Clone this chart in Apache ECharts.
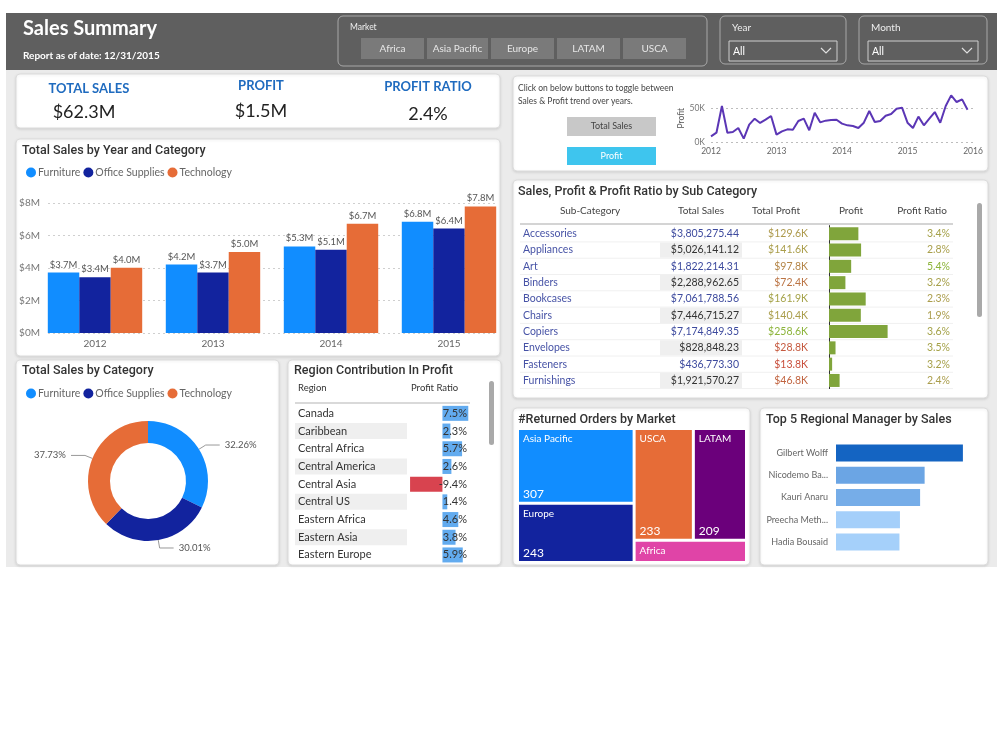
<!DOCTYPE html>
<html>
<head>
<meta charset="utf-8">
<title>Sales Summary</title>
<script src="https://cdn.jsdelivr.net/npm/echarts@6/dist/echarts.min.js"></script>
<style>
  html, body { margin: 0; padding: 0; background: #fff; }
  #main { width: 1000px; height: 750px; }
</style>
</head>
<body>
<div id="main"></div>
<script>
// ---------- data ----------
var years = ['2012', '2013', '2014', '2015'];
var categories = ['Furniture', 'Office Supplies', 'Technology'];
var furnitureSales = [3.72, 4.21, 5.33, 6.84];   // $M
var officeSales = [3.43, 3.72, 5.12, 6.43];
var techSales = [4.02, 4.98, 6.72, 7.79];
var categoryTotals = [20.10, 18.70, 23.51];      // $M

var kpiLabels = ['TOTAL SALES', 'PROFIT', 'PROFIT RATIO'];
var kpiValues = ['$62.3M', '$1.5M', '2.4%'];

var markets = ['Africa', 'Asia Pacific', 'Europe', 'LATAM', 'USCA'];

var trendStartYear = 2012;
// monthly profit, Jan 2012 .. Dec 2015 ($K)
var monthlyProfit = [
  8.3, 13.7, 53.0, 13.7, 14.7, 20.6, 4.9, 25.5, 34.3, 28.0, 32.8, 38.2,
  10.8, 15.7, 18.6, 18.1, 30.9, 34.3, 17.2, 43.0, 28.9, 31.4, 32.4, 32.8,
  27.0, 24.5, 23.5, 20.6, 28.4, 45.6, 29.4, 30.9, 38.7, 41.2, 49.0, 50.5,
  28.4, 20.6, 37.3, 24.5, 34.3, 44.1, 28.4, 53.0, 68.6, 58.8, 62.7, 47.5
];

var subCategories = ['Accessories', 'Appliances', 'Art', 'Binders', 'Bookcases',
  'Chairs', 'Copiers', 'Envelopes', 'Fasteners', 'Furnishings'];
var subSales = [3805275.44, 5026141.12, 1822214.31, 2288962.65, 7061788.56,
  7446715.27, 7174849.35, 828848.23, 436773.30, 1921570.27];
var subProfit = [129.6, 141.6, 97.8, 72.4, 161.9, 140.4, 258.6, 28.8, 13.8, 46.8]; // $K
var subRatio = [3.4, 2.8, 5.4, 3.2, 2.3, 1.9, 3.6, 3.5, 3.2, 2.4];

var regions = ['Canada', 'Caribbean', 'Central Africa', 'Central America', 'Central Asia',
  'Central US', 'Eastern Africa', 'Eastern Asia', 'Eastern Europe'];
var regionRatio = [7.5, 2.3, 5.7, 2.6, -9.4, 1.4, 4.6, 3.8, 5.9];

var returnMarkets = ['Asia Pacific', 'Europe', 'USCA', 'LATAM', 'Africa'];
var returnCounts = [307, 243, 233, 209, 88];

var managers = ['Gilbert Wolff', 'Nicodemo Bautista', 'Kauri Anaru', 'Preecha Metharom', 'Hadia Bousaid'];
var managerSales = [12.6, 8.8, 8.35, 6.35, 6.3]; // $M

// ---------- helpers ----------
var palette = ['#118DFF', '#12239E', '#E66C37', '#6B007B', '#E044A7'];
var BODY = 'Lato';
var TITLE = 'Roboto';

function hex(c) {
  return [parseInt(c.substr(1, 2), 16), parseInt(c.substr(3, 2), 16), parseInt(c.substr(5, 2), 16)];
}
function mix(a, b, t) {
  var x = hex(a), y = hex(b);
  return 'rgb(' + x.map(function (v, i) { return Math.round(v + (y[i] - v) * t); }).join(',') + ')';
}
function span(arr, v) {
  var lo = Math.min.apply(null, arr), hi = Math.max.apply(null, arr);
  return (v - lo) / (hi - lo);
}

var g = [];
function rect(x, y, w, h, style, r, z) {
  g.push({ type: 'rect', z: z == null ? -5 : z, silent: true,
    shape: { x: x, y: y, width: w, height: h, r: r || 0 }, style: style });
}
function card(x, y, w, h) {
  rect(x, y, w, h, { fill: '#fff', stroke: '#dcdcdc', lineWidth: 1,
    shadowBlur: 3, shadowColor: 'rgba(0,0,0,0.10)', shadowOffsetY: 1 }, 4, -5);
}
function txt(x, y, s, o) {
  o = o || {};
  g.push({ type: 'text', z: 100, silent: true, style: {
    x: x, y: y, text: s, fill: o.fill || '#333', fontSize: o.size || 10,
    fontFamily: o.family || BODY, fontWeight: o.weight || 'normal',
    textAlign: o.align || 'left', textVerticalAlign: 'middle' } });
}
function line(x1, y1, x2, y2, color, w) {
  g.push({ type: 'line', z: -4, silent: true, shape: { x1: x1, y1: y1, x2: x2, y2: y2 },
    style: { stroke: color, lineWidth: w || 1 } });
}
function title(x, y, s) {
  txt(x, y, s, { family: TITLE, size: 12.5, fill: '#333', weight: 500 });
}

// ---------- page chrome ----------
rect(6, 70, 991, 497, { fill: '#ebebeb' }, 0, -6);
rect(6, 13, 991, 57, { fill: '#5f5f5f' }, 0, -6);
txt(23, 29, 'Sales Summary', { fill: '#fff', size: 20, weight: 'bold' });
txt(23, 56, 'Report as of date: 12/31/2015', { fill: '#fff', size: 10, weight: 'bold' });

// market slicer
rect(338, 16, 369, 50, { fill: 'none', stroke: '#a8a8a8', lineWidth: 1 }, 5, -4);
txt(350, 27, 'Market', { fill: '#eee', size: 8.5 });
var btnX = [361, 427, 491, 557, 623], btnW = [63, 61, 63, 63, 63];
markets.forEach(function (m, i) {
  rect(btnX[i], 38, btnW[i], 21, { fill: '#7a7a7a' }, 0, -4);
  txt(btnX[i] + btnW[i] / 2, 48.5, m, { fill: '#e6e6e6', size: 10, align: 'center' });
});

// year / month dropdowns
[['Year', 720, 126], ['Month', 859, 128]].forEach(function (d) {
  rect(d[1], 16, d[2], 48, { fill: 'none', stroke: '#a8a8a8', lineWidth: 1 }, 5, -4);
  txt(d[1] + 12, 28, d[0], { fill: '#eee', size: 10 });
  rect(d[1] + 9, 41, d[2] - 18, 20, { fill: 'none', stroke: '#cfcfcf', lineWidth: 1 }, 0, -4);
  txt(d[1] + 13, 52, 'All', { fill: '#fff', size: 10.5 });
  g.push({ type: 'polyline', z: 100, silent: true,
    shape: { points: [[d[1] + d[2] - 25, 48], [d[1] + d[2] - 20, 53], [d[1] + d[2] - 15, 48]] },
    style: { stroke: '#e0e0e0', lineWidth: 1.2, fill: 'none' } });
});

// cards
card(16, 74, 484, 54);
card(16, 139, 484, 217);
card(16, 360, 263, 205);
card(288, 360, 213, 205);
card(513, 76, 475, 95);
card(513, 180, 475, 218);
card(513, 408, 237, 157);
card(760, 408, 228, 157);

// KPI card
var kpiX = [89, 261, 428], kpiLY = [89, 86, 87], kpiVY = [112, 111, 114];
kpiLabels.forEach(function (l, i) {
  txt(kpiX[i], kpiLY[i], l, { fill: '#1f6bbf', size: 13, weight: 'bold', align: 'center' });
  txt(kpiX[i] - (i === 0 ? 5 : 0), kpiVY[i], kpiValues[i], { fill: '#222', size: 18, align: 'center' });
});

// card titles
title(22, 151, 'Total Sales by Year and Category');
title(22, 371, 'Total Sales by Category');
title(294, 371, 'Region Contribution In Profit');
title(518, 192, 'Sales, Profit & Profit Ratio by Sub Category');
title(518, 420, '#Returned Orders by Market');
title(766, 420, 'Top 5 Regional Manager by Sales');

// trend card text + buttons
txt(518, 88, 'Click on below buttons to toggle between', { size: 8.5, fill: '#444' });
txt(518, 101, 'Sales & Profit trend over years.', { size: 8.5, fill: '#444' });
rect(567, 117, 89, 19, { fill: '#c8c8c8' }, 0, -4);
txt(611.5, 126.5, 'Total Sales', { size: 9, fill: '#444', align: 'center' });
rect(567, 147, 89, 18, { fill: '#3ec5ee' }, 0, -4);
txt(611.5, 156, 'Profit', { size: 9, fill: '#fff', align: 'center' });

// sub category table
var subTop = 225.6, subRow = 16.3;
txt(590, 211, 'Sub-Category', { size: 10, fill: '#444', align: 'center' });
txt(701, 211, 'Total Sales', { size: 10, fill: '#444', align: 'center' });
txt(776, 211, 'Total Profit', { size: 10, fill: '#444', align: 'center' });
txt(851, 211, 'Profit', { size: 10, fill: '#444', align: 'center' });
txt(922, 211, 'Profit Ratio', { size: 10, fill: '#444', align: 'center' });
line(520, 224, 953, 224, '#d4d4d4', 2);
subCategories.forEach(function (s, i) {
  var cy = subTop + (i + 0.5) * subRow;
  var odd = i % 2 === 1;
  if (odd) rect(660, cy - subRow / 2 + 0.5, 82, subRow - 1, { fill: '#efefef' }, 0, -4);
  line(520, cy + subRow / 2, 953, cy + subRow / 2, '#f0f0f0', 1);
  txt(523, cy, s, { size: 10.5, fill: '#4753a6' });
  txt(739, cy, '$' + subSales[i].toLocaleString('en-US', { minimumFractionDigits: 2, maximumFractionDigits: 2 }),
    { size: 10.5, fill: odd ? '#333' : '#3d4a9e', align: 'right' });
  var tp = span(subProfit, subProfit[i]);
  var pc = tp < 0.5 ? mix('#c94f3c', '#ab9d4c', tp * 2) : mix('#ab9d4c', '#8cb43a', (tp - 0.5) * 2);
  txt(808, cy, '$' + subProfit[i].toFixed(1) + 'K', { size: 10.5, fill: pc, align: 'right' });
  var tr = span(subRatio, subRatio[i]);
  txt(950, cy, subRatio[i].toFixed(1) + '%', { size: 10.5, fill: mix('#ab9d4c', '#8cb43a', tr * tr), align: 'right' });
});
rect(977, 203, 5, 114, { fill: '#a9a9a9' }, 2.5, -4);

// region table
var regTop = 404.5, regRow = 17.7;
txt(298, 388, 'Region', { size: 9.5, fill: '#333' });
txt(411, 388, 'Profit Ratio', { size: 9.5, fill: '#333' });
line(295, 403, 470, 403, '#cccccc', 1.5);
regions.forEach(function (r, i) {
  var cy = regTop + (i + 0.5) * regRow;
  if (i % 2 === 1) rect(295, cy - 8, 112, 16, { fill: '#efefef' }, 0, -4);
  txt(298, cy, r, { size: 11, fill: '#333' });
  txt(467, cy, regionRatio[i].toFixed(1) + '%', { size: 11, fill: '#333', align: 'right' });
});
rect(489, 381, 5, 64, { fill: '#a9a9a9' }, 2.5, -4);

// ---------- chart ----------
var chart = echarts.init(document.getElementById('main'));

var trendData = monthlyProfit.map(function (v, i) {
  return [trendStartYear + i / 12, v * 1000];
});

var legendBase = { data: categories, left: 21, icon: 'circle', itemWidth: 10, itemHeight: 10, itemGap: 3,
  textStyle: { fontSize: 10.5, color: '#666', padding: [0, 0, 0, -3] }, selectedMode: false };

var option = {
  animation: false,
  color: palette,
  textStyle: { fontFamily: BODY },
  graphic: { elements: g },
  legend: [
    Object.assign({ top: 162 }, legendBase),
    Object.assign({ top: 383 }, legendBase)
  ],
  grid: [
    { left: 36, top: 203, width: 472, height: 130 },        // 0 year/category bars
    { left: 48, top: 203, width: 449, height: 130 },        // 1 gridlines + y labels
    { left: 711, top: 94.4, width: 262, height: 47.6 },     // 2 profit trend
    { left: 829, top: subTop, width: 68, height: subRow * 10 }, // 3 sub-category profit bars
    { left: 408, top: regTop, width: 62, height: regRow * 9 },  // 4 region ratio bars
    { left: 836, top: 442, width: 141, height: 111 }         // 5 managers
  ],
  xAxis: [
    { gridIndex: 0, type: 'category', data: years, axisLine: { show: false }, axisTick: { show: false },
      axisLabel: { color: '#666', fontSize: 10, margin: 6 } },
    { gridIndex: 1, type: 'value', min: 0, max: 1, show: false },
    { gridIndex: 2, type: 'value', min: 2012, max: 2016, interval: 1,
      axisLine: { show: false }, axisTick: { show: false }, splitLine: { show: false },
      axisLabel: { color: '#666', fontSize: 8.5, margin: 5, formatter: function (v) { return String(v); } } },
    { gridIndex: 3, type: 'value', min: 0, max: 300, show: false },
    { gridIndex: 4, type: 'value', min: -10, max: 8, show: false },
    { gridIndex: 5, type: 'value', min: 0, max: 14, show: false }
  ],
  yAxis: [
    { gridIndex: 0, type: 'value', min: 0, max: 8, show: false },
    { gridIndex: 1, type: 'value', min: 0, max: 8, interval: 2,
      axisLine: { show: false }, axisTick: { show: false },
      axisLabel: { color: '#777', fontSize: 10, margin: 8, formatter: function (v) { return '$' + v + 'M'; } },
      splitLine: { lineStyle: { color: '#cfcfcf', type: [2, 3] } } },
    { gridIndex: 2, type: 'value', min: 0, max: 70000, interval: 50000,
      name: 'Profit', nameLocation: 'middle', nameGap: 25, nameRotate: 90,
      nameTextStyle: { color: '#555', fontSize: 8.5 },
      axisLine: { show: false }, axisTick: { show: false },
      axisLabel: { color: '#777', fontSize: 8.5, margin: 6, showMaxLabel: false,
        formatter: function (v) { return (v / 1000) + 'K'; } },
      splitLine: { showMaxLine: false, lineStyle: { color: '#bdbdbd', type: [2, 3] } } },
    { gridIndex: 3, type: 'category', data: subCategories, inverse: true,
      axisLine: { show: true, lineStyle: { color: '#333', width: 1 } },
      axisTick: { show: false }, axisLabel: { show: false } },
    { gridIndex: 4, type: 'category', data: regions, inverse: true, show: false },
    { gridIndex: 5, type: 'category', data: managers, inverse: true,
      axisLine: { show: false }, axisTick: { show: false },
      axisLabel: { color: '#666', fontSize: 9, margin: 8, width: 64, overflow: 'truncate' } }
  ],
  series: [
    { name: 'Furniture', type: 'bar', xAxisIndex: 0, yAxisIndex: 0, data: furnitureSales,
      barGap: '0%', barCategoryGap: '20%' },
    { name: 'Office Supplies', type: 'bar', xAxisIndex: 0, yAxisIndex: 0, data: officeSales },
    { name: 'Technology', type: 'bar', xAxisIndex: 0, yAxisIndex: 0, data: techSales }
  ].map(function (s) {
    s.label = { show: true, position: 'top', distance: 3, color: '#555', fontSize: 9.5,
      formatter: function (p) { return '$' + p.value.toFixed(1) + 'M'; } };
    return s;
  }).concat([
    { type: 'line', xAxisIndex: 2, yAxisIndex: 2, data: trendData, showSymbol: false,
      lineStyle: { color: '#5b36b5', width: 2 }, itemStyle: { color: '#5b36b5' } },
    { type: 'pie', center: [148, 481], radius: [38, 60], startAngle: 90,
      data: categories.map(function (c, i) { return { name: c, value: categoryTotals[i] }; }),
      label: { formatter: '{d}%', color: '#555', fontSize: 9.5 },
      labelLine: { length: 8, length2: 14, lineStyle: { color: '#999' } } },
    { type: 'bar', xAxisIndex: 3, yAxisIndex: 3, data: subProfit, barWidth: 13,
      itemStyle: { color: '#80a53b' } },
    { type: 'bar', xAxisIndex: 4, yAxisIndex: 4, data: regionRatio, barWidth: 15,
      itemStyle: { color: function (p) { return p.value < 0 ? '#d8434f' : '#62abef'; } } },
    { type: 'treemap', left: 518, top: 429, width: 228, height: 133,
      roam: false, nodeClick: false, breadcrumb: { show: false },
      data: returnMarkets.map(function (m, i) { return { name: m, value: returnCounts[i] }; }),
      levels: [{ color: palette, itemStyle: { borderWidth: 0, gapWidth: 1 } }],
      itemStyle: { borderColor: '#fff', borderWidth: 1, gapWidth: 1 },
      label: { show: true, position: 'insideTopLeft', color: '#fff', fontSize: 10, padding: [4, 4],
        formatter: '{b}' } },
    { type: 'treemap', left: 518, top: 429, width: 228, height: 133, silent: true,
      roam: false, nodeClick: false, breadcrumb: { show: false },
      data: returnMarkets.map(function (m, i) { return { name: m, value: returnCounts[i] }; }),
      levels: [{ color: ['rgba(0,0,0,0)'], itemStyle: { borderWidth: 0, gapWidth: 1 } }],
      itemStyle: { borderColor: 'rgba(0,0,0,0)', borderWidth: 1, gapWidth: 1 },
      label: { show: true, position: 'insideBottomLeft', color: '#fff', fontSize: 12, padding: [2, 4],
        formatter: function (p) { return p.value >= 150 ? String(p.value) : ''; } } },
    { type: 'bar', xAxisIndex: 5, yAxisIndex: 5, data: managerSales, barWidth: 17,
      itemStyle: { color: function (p) { return mix('#a5d0fa', '#1464c2', span(managerSales, p.value)); } } }
  ])
};

chart.setOption(option);
</script>
</body>
</html>
